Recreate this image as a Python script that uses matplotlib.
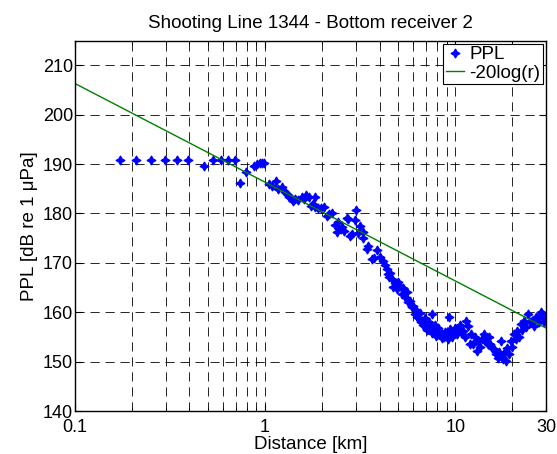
import matplotlib
matplotlib.use("Agg")
import matplotlib.pyplot as plt
from matplotlib.ticker import FixedLocator, LogLocator, NullFormatter

plt.rcParams['font.family'] = ['Liberation Sans', 'DejaVu Sans']

# measured peak pressure level vs. range
dist_km = [
    0.172, 0.209, 0.250, 0.299, 0.345, 0.393, 0.479, 0.530, 0.584, 0.641,
    0.692, 0.738, 0.791, 0.874, 0.903, 0.940, 0.963, 0.987,
    1.043, 1.086, 1.144, 1.174, 1.223, 1.271, 1.301, 1.330, 1.379, 1.408, 1.438, 1.496,
    1.555, 1.594, 1.633, 1.702, 1.751, 1.780, 1.819, 1.829, 1.907, 1.976, 2.044, 2.112,
    2.171, 2.240, 2.328, 2.396, 2.416, 2.494, 2.533, 2.611, 2.699, 2.719, 2.787, 2.856,
    2.963, 3.022, 3.081, 3.149,
    3.26, 3.29, 3.43, 3.49, 3.64, 3.73, 3.87, 4.03, 4.19, 4.27, 4.36, 4.45,
    4.50, 4.54, 4.64, 4.71, 4.82, 4.91, 4.96, 5.01, 5.12, 5.22, 5.28, 5.33,
    5.44, 5.55, 5.67, 5.78, 5.89, 6.02,
    6.16, 6.21, 6.31, 6.42, 6.51, 6.61, 6.69, 6.80, 6.90, 6.96, 7.10, 7.25,
    7.30, 7.40, 7.54, 7.59, 7.69, 7.79, 7.89, 7.99, 8.13, 8.33, 8.48, 8.68,
    8.82, 9.02, 9.17, 9.31, 9.37, 9.56, 9.76, 9.96, 10.16, 10.35, 10.55, 10.75,
    11.04, 11.24, 11.44, 11.73, 11.93, 12.13,
    12.46, 12.76, 13.05, 13.25, 13.55, 13.85, 14.14, 14.44, 14.84, 15.03, 15.23, 15.63,
    16.02, 16.32, 16.71, 17.01, 17.31, 17.60, 17.80, 18.10, 18.40, 18.79, 19.19, 19.58,
    19.98, 20.37, 20.77, 21.16, 21.56, 22.05, 22.55, 22.94, 23.54, 24.13, 24.73, 25.42,
    26.01, 26.70, 27.00, 27.69, 28.19, 28.58, 29.18, 29.67,
]
ppl_db = [
    190.9, 190.9, 190.9, 190.9, 190.9, 190.9, 189.5, 190.9, 190.9, 190.9,
    190.9, 186.2, 188.3, 189.7, 190.0, 190.2, 190.3, 190.2,
    186.0, 185.6, 186.5, 185.0, 185.4, 184.3, 183.9, 183.4, 182.9, 182.5, 182.9, 182.7,
    183.3, 182.9, 183.8, 183.4, 181.6, 182.0, 181.2, 183.3, 181.1, 181.0, 181.4, 179.4,
    179.8, 180.0, 177.7, 176.2, 178.2, 176.8, 177.3, 176.5, 179.1, 178.9, 175.5, 175.8,
    178.7, 180.6, 176.0, 177.5,
    175.0, 176.2, 172.8, 173.5, 170.8, 171.0, 172.5, 171.2, 170.4, 169.5, 168.7, 167.7,
    167.2, 168.0, 166.7, 165.2, 166.0, 164.8, 165.6, 166.2, 165.4, 163.7, 165.0, 164.7,
    163.0, 164.0, 162.0, 162.3, 161.0, 161.3,
    159.6, 160.5, 159.0, 158.9, 159.8, 158.0, 158.3, 157.5, 158.8, 157.2, 156.5, 156.6,
    158.0, 157.0, 159.6, 155.8, 156.2, 157.5, 155.2, 155.6, 156.8, 156.2, 154.8, 154.9,
    156.0, 155.6, 154.5, 159.1, 156.6, 155.0, 155.9, 156.8, 155.5, 156.6, 157.5, 156.0,
    156.2, 155.0, 158.3, 157.2, 153.5, 155.5,
    153.5, 154.9, 152.2, 154.2, 153.0, 154.5, 155.6, 154.0, 153.5, 154.9, 153.5, 152.8,
    152.5, 151.5, 150.8, 152.0, 154.2, 151.0, 150.5, 151.8, 150.2, 152.8, 151.5, 154.2,
    153.0, 155.6, 154.5, 156.2, 155.0, 157.6, 156.5, 158.3, 157.0, 159.6, 158.0, 158.3,
    157.2, 159.0, 158.9, 158.0, 160.0, 159.6, 158.0, 158.6,
]

# spherical spreading reference line
ref_km = [0.1, 30]
ref_db = [206.3, 156.8]

fig = plt.figure(figsize=(5.57, 4.54), dpi=100)
ax = fig.add_axes([0.1346, 0.0947, 0.8456, 0.816])

ax.plot(dist_km, ppl_db, linestyle='none', marker=(4, 1, 0), markersize=6.5,
        color='blue', markeredgewidth=0.9, label='PPL')
ax.plot(ref_km, ref_db, color=(0, 0.5, 0), linewidth=1.0, label='-20log(r)')

ax.set_xscale('log')
ax.set_xlim(0.1, 30)
ax.set_ylim(140, 215)

ax.xaxis.set_major_locator(FixedLocator([0.1, 1, 10, 30]))
ax.set_xticklabels(['0.1', '1', '10', '30'])
ax.xaxis.set_minor_locator(LogLocator(base=10, subs=range(2, 10)))
ax.xaxis.set_minor_formatter(NullFormatter())
ax.set_yticks(range(140, 211, 10))

dash = (0, (11, 7))
ax.grid(True, which='both', axis='x', color='k', linestyle=dash, linewidth=0.6)
ax.grid(True, which='major', axis='y', color='k', linestyle=dash, linewidth=0.6)

ax.tick_params(which='both', direction='in', top=True, right=True, labelsize=13)
ax.tick_params(axis='x', pad=6)
ax.tick_params(axis='y', pad=1.5)
ax.tick_params(which='major', length=5)
ax.tick_params(which='minor', length=3)
for s in ax.spines.values():
    s.set_linewidth(1.0)

ax.set_title('Shooting Line 1344 - Bottom receiver 2', fontsize=13.5, pad=9)
ax.set_xlabel('Distance [km]', fontsize=13.5, labelpad=0)
ax.set_ylabel('PPL [dB re 1 μPa]', fontsize=13.5, labelpad=3)

leg = ax.legend(loc='upper right', fontsize=13.5, fancybox=False, framealpha=1,
                edgecolor='k', borderaxespad=0.16, handlelength=1.0,
                borderpad=0.15, labelspacing=0.05, handletextpad=0.25)
leg.get_frame().set_linewidth(0.8)

fig.savefig('out.png', dpi=100)
